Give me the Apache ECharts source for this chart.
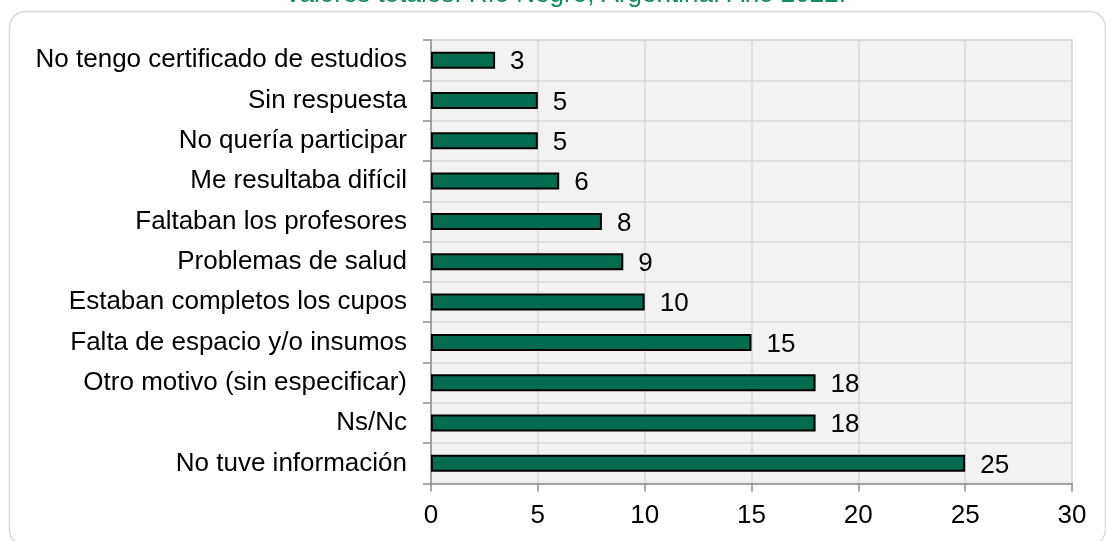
<!DOCTYPE html>
<html>
<head>
<meta charset="utf-8">
<script src="https://cdn.jsdelivr.net/npm/echarts@6/dist/echarts.min.js"></script>
<style>
  html, body { margin: 0; padding: 0; background: #fff; }
  #chart { width: 1106px; height: 541px; }
</style>
</head>
<body>
<div id="chart"></div>
<script>
// motivos, de arriba hacia abajo
var categorias = [
    'No tengo certificado de estudios',
    'Sin respuesta',
    'No quería participar',
    'Me resultaba difícil',
    'Faltaban los profesores',
    'Problemas de salud',
    'Estaban completos los cupos',
    'Falta de espacio y/o insumos',
    'Otro motivo (sin especificar)',
    'Ns/Nc',
    'No tuve información'
];
var valores = [3, 5, 5, 6, 8, 9, 10, 15, 18, 18, 25];
var titulo = 'Valores totales. Río Negro, Argentina. Año 2022.';

var fuente = 'Liberation Sans, Arial, sans-serif';
var myChart = echarts.init(document.getElementById('chart'));

myChart.setOption({
    animation: false,
    // borde redondeado y titulo cortado arriba
    graphic: [
        {
            type: 'rect',
            shape: { x: 9.5, y: 11.5, width: 1096, height: 534, r: 16 },
            style: { fill: 'none', stroke: '#d9d9d9', lineWidth: 1.5 },
            silent: true
        },
        {
            type: 'text',
            x: 565,
            y: -5.5,
            style: {
                text: titulo,
                fill: '#148a63',
                font: '26px ' + fuente,
                textAlign: 'center',
                textVerticalAlign: 'middle'
            },
            silent: true
        }
    ],
    grid: {
        left: 431,
        right: 34,
        top: 40,
        bottom: 57.5,
        show: true,
        backgroundColor: '#f2f2f2',
        borderColor: '#d9d9d9',
        borderWidth: 1.5
    },
    xAxis: {
        type: 'value',
        min: 0,
        max: 30,
        interval: 5,
        axisLine: { show: true, lineStyle: { color: '#8f8f8f', width: 1.5 } },
        axisTick: { show: true, length: 8, lineStyle: { color: '#8f8f8f', width: 1.5 } },
        axisLabel: { color: '#000', fontSize: 26, fontFamily: fuente, margin: 19 },
        splitLine: { show: true, lineStyle: { color: '#d9d9d9', width: 1.5 } }
    },
    yAxis: {
        type: 'category',
        inverse: true,
        data: categorias,
        axisLine: { show: true, lineStyle: { color: '#8f8f8f', width: 1.5 } },
        axisTick: { show: true, length: 8, lineStyle: { color: '#8f8f8f', width: 1.5 } },
        axisLabel: { color: '#000', fontSize: 26, fontFamily: fuente, margin: 24 },
        splitLine: { show: true, lineStyle: { color: '#d9d9d9', width: 1.5 } }
    },
    series: [{
        type: 'bar',
        data: valores,
        barWidth: 17,
        itemStyle: { color: '#036b4f', borderColor: '#000', borderWidth: 2 },
        label: {
            show: true,
            position: 'right',
            distance: 15,
            offset: [0, 2],
            color: '#000',
            fontSize: 26,
            fontFamily: fuente
        }
    }]
});
</script>
</body>
</html>
